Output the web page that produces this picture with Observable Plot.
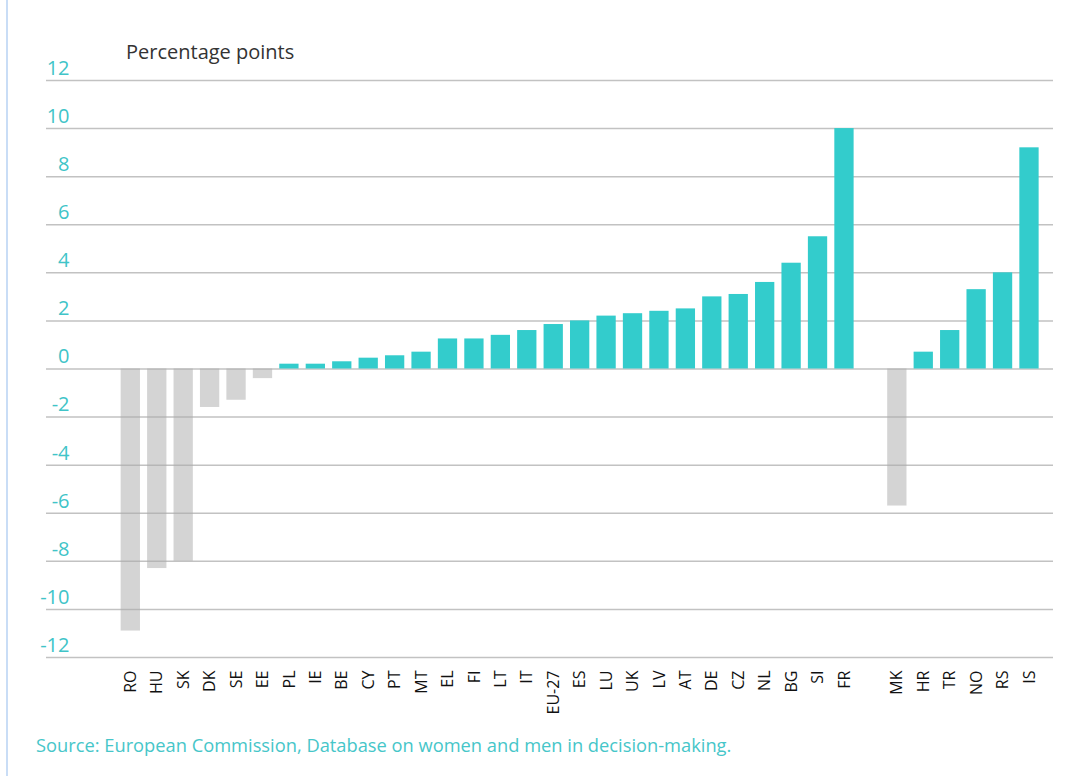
<!DOCTYPE html>
<html><head><meta charset="utf-8">
<script src="https://cdn.jsdelivr.net/npm/d3@7"></script>
<script src="https://cdn.jsdelivr.net/npm/@observablehq/plot@0.6"></script>
<style>
body{margin:0;background:#fff;font-family:"Open Sans",sans-serif;}
#wrap{position:relative;width:1083px;height:776px;overflow:hidden;background:#fff;}
#vline{position:absolute;left:6px;top:0;width:2px;height:776px;background:#c9ddf6;}
#title{position:absolute;left:126px;top:37px;font-size:20px;color:#333;line-height:30px;white-space:nowrap;}
#chart{position:absolute;left:0;top:65px;}
#caption{position:absolute;left:36px;top:731px;font-size:18.3px;color:#46c6c9;line-height:28px;white-space:nowrap;}
</style></head><body>
<div id="wrap">
  <div id="vline"></div>
  <div id="title">Percentage points</div>
  <div id="chart"></div>
  <div id="caption">Source: European Commission, Database on women and men in decision-making.</div>
</div>
<script>
const euCountries = ["RO","HU","SK","DK","SE","EE","PL","IE","BE","CY","PT","MT","EL","FI","LT","IT","EU-27","ES","LU","UK","LV","AT","DE","CZ","NL","BG","SI","FR"];
const euValues = [-10.9,-8.3,-8.0,-1.6,-1.3,-0.4,0.2,0.2,0.3,0.45,0.55,0.7,1.25,1.25,1.4,1.6,1.85,2.0,2.2,2.3,2.4,2.5,3.0,3.1,3.6,4.4,5.5,10.0];
const otherCountries = ["MK","HR","TR","NO","RS","IS"];
const otherValues = [-5.7,0.7,1.6,3.3,4.0,9.2];
const yTicks = [12,10,8,6,4,2,0,-2,-4,-6,-8,-10,-12];
const GAP = " ";

const data = [
  ...euCountries.map((c,i)=>({country:c, value:euValues[i]})),
  ...otherCountries.map((c,i)=>({country:c, value:otherValues[i]}))
];
const domain = [...euCountries, GAP, ...otherCountries];

const chart = Plot.plot({
  width: 1083,
  height: 665,
  marginTop: 15,
  marginBottom: 73,
  marginLeft: 46,
  marginRight: 30,
  style: {fontFamily: "'Open Sans', sans-serif", background: "transparent", overflow: "visible"},
  x: {domain, range: [117.1, 1042.2], paddingInner: 0.27, paddingOuter: 0.135, round: false, axis: null, label: null},
  y: {domain: [-12, 12], axis: null, label: null},
  marks: [
    Plot.gridY(yTicks, {stroke: "#c2c2c2", strokeOpacity: 1, strokeWidth: 1.5}),
    Plot.barY(data.filter(d => d.value < 0), {x: "country", y: "value", fill: "#a9a9a9", fillOpacity: 0.5}),
    Plot.barY(data.filter(d => d.value >= 0), {x: "country", y: "value", fill: "#33cccc"}),
    Plot.axisY(yTicks, {tickSize: 0, textAnchor: "end", dx: 32, dy: -12, fill: "#40c4c8", fontSize: 20, label: null, tickFormat: d => String(d)}),
    Plot.axisX(domain, {tickSize: 0, tickRotate: -90, tickPadding: 13, fontSize: 16, fill: "#111", label: null, tickFormat: d => d === GAP ? "" : d})
  ]
});
document.getElementById("chart").appendChild(chart);
</script>
</body></html>
